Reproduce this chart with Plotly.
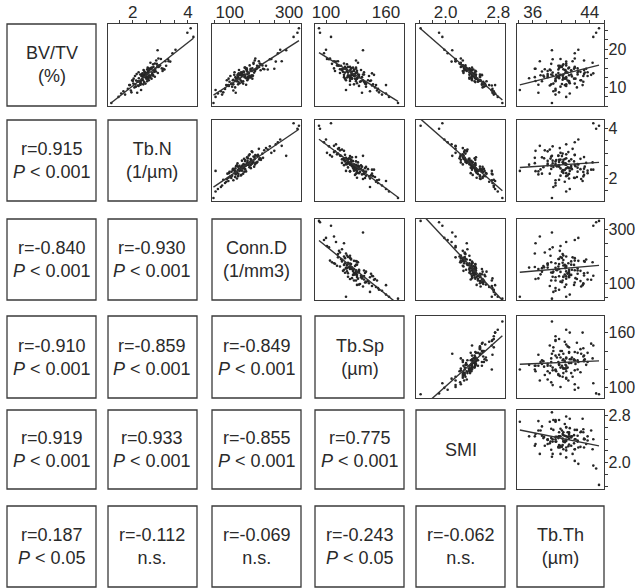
import numpy as np
import plotly.graph_objects as go

# ---- data (one value per specimen) ----
bv_tv = [14.3, 10.7, 16.0, 10.5, 14.0, 13.1, 12.2, 14.6, 12.9, 14.8,
         13.0, 14.6, 8.0, 14.9, 13.8, 11.6, 15.3, 10.3, 17.4, 10.9,
         12.5, 13.4, 13.4, 15.1, 8.5, 17.5, 13.3, 12.2, 12.2, 14.1,
         16.7, 13.6, 10.9, 13.8, 14.5, 11.5, 13.8, 14.2, 8.3, 13.7,
         12.2, 14.8, 11.0, 12.6, 13.9, 16.2, 9.1, 13.0, 13.3, 11.8,
         15.6, 10.6, 16.4, 11.6, 11.8, 15.7, 8.6, 14.7, 14.5, 16.1,
         11.3, 13.0, 11.4, 15.0, 18.9, 12.6, 13.1, 8.9, 15.7, 11.5,
         14.9, 11.7, 14.2, 13.3, 13.2, 12.7, 9.9, 17.0, 11.9, 13.0,
         12.8, 17.3, 10.4, 13.2, 12.9, 15.3, 7.4, 12.6, 14.8, 12.6,
         14.7, 13.3, 12.6, 11.8, 13.8, 15.3, 10.8, 19.8, 12.3, 15.1,
         9.5, 14.1, 14.4, 13.8, 10.7, 13.0, 16.8, 11.4, 12.3, 14.5,
         10.1, 14.4, 12.2, 15.6,
         25.5, 24.3, 23.2, 19.7, 5.8, 9.2, 12.3, 14.8, 13.2, 10.5, 16.8]

tb_n = [2.41, 2.38, 2.74, 1.87, 2.78, 2.36, 2.55, 3.15, 2.08, 2.62,
        2.60, 2.52, 1.72, 3.05, 2.47, 2.29, 2.89, 2.21, 3.02, 2.46,
        2.63, 2.70, 2.14, 2.54, 2.16, 2.93, 2.32, 2.68, 2.03, 2.84,
        3.36, 2.35, 2.02, 2.71, 2.77, 2.19, 2.44, 2.56, 1.58, 2.91,
        2.49, 2.82, 2.30, 2.48, 2.21, 2.80, 1.93, 2.74, 2.51, 2.37,
        3.21, 2.28, 2.64, 2.00, 2.58, 2.96, 1.95, 2.62, 2.39, 2.87,
        2.41, 2.45, 2.26, 2.66, 3.44, 2.47, 2.42, 1.66, 2.99, 2.52,
        2.57, 2.12, 3.08, 2.27, 2.40, 2.80, 2.06, 2.85, 2.33, 2.65,
        2.37, 3.28, 2.19, 2.73, 2.31, 2.75, 1.48, 2.61, 2.68, 2.40,
        3.12, 2.50, 2.53, 1.98, 2.55, 2.94, 2.27, 3.55, 2.22, 2.69,
        1.82, 2.57, 2.79, 2.43, 2.09, 2.59, 3.18, 2.18, 2.53, 2.60,
        2.11, 2.76, 2.34, 2.90,
        4.10, 3.98, 4.20, 2.90, 1.22, 2.30, 2.55, 3.10, 2.35, 1.90, 3.30]

conn_d = [171, 112, 205, 88, 148, 135, 162, 228, 102, 190,
          126, 155, 74, 176, 182, 118, 196, 97, 240, 145,
          168, 160, 139, 150, 120, 186, 127, 176, 96, 158,
          255, 130, 105, 141, 170, 145, 139, 185, 60, 164,
          121, 212, 133, 150, 116, 201, 112, 173, 142, 110,
          222, 155, 180, 124, 159, 167, 78, 188, 131, 180,
          140, 166, 99, 193, 262, 128, 147, 70, 210, 124,
          157, 137, 174, 149, 144, 161, 118, 184, 112, 178,
          152, 235, 92, 152, 141, 199, 52, 162, 170, 119,
          216, 133, 170, 90, 163, 195, 106, 270, 125, 152,
          84, 146, 204, 137, 128, 175, 198, 129, 155, 158,
          108, 183, 134, 192,
          333, 328, 315, 290, 45, 52, 160, 250, 115, 95, 275]

tb_sp = [131, 128, 121, 150, 117, 128, 124, 116, 143, 125,
         122, 128, 156, 108, 131, 124, 124, 133, 101, 140,
         121, 126, 129, 130, 136, 104, 137, 119, 131, 126,
         110, 146, 139, 119, 121, 130, 122, 128, 160, 114,
         126, 120, 131, 133, 138, 118, 151, 125, 132, 142,
         113, 124, 132, 144, 120, 111, 153, 116, 135, 106,
         139, 129, 134, 125, 98, 136, 127, 144, 112, 135,
         120, 145, 109, 138, 133, 123, 149, 130, 130, 122,
         133, 103, 146, 118, 128, 122, 163, 124, 130, 132,
         114, 127, 118, 137, 125, 119, 140, 100, 131, 127,
         152, 121, 124, 130, 147, 124, 112, 138, 126, 121,
         140, 116, 129, 115,
         93, 94, 105, 137, 172, 120, 125, 118, 148, 160, 108]

smi = [2.45, 2.58, 2.23, 2.66, 2.27, 2.55, 2.39, 2.33, 2.52, 2.32,
       2.40, 2.42, 2.73, 2.28, 2.40, 2.49, 2.27, 2.61, 2.15, 2.56,
       2.36, 2.39, 2.41, 2.40, 2.71, 2.23, 2.52, 2.36, 2.47, 2.46,
       2.09, 2.40, 2.56, 2.36, 2.35, 2.62, 2.44, 2.26, 2.75, 2.27,
       2.40, 2.29, 2.59, 2.44, 2.38, 2.21, 2.70, 2.45, 2.42, 2.52,
       2.26, 2.55, 2.23, 2.52, 2.40, 2.26, 2.73, 2.37, 2.40, 2.22,
       2.45, 2.42, 2.57, 2.30, 2.03, 2.52, 2.41, 2.73, 2.30, 2.44,
       2.36, 2.52, 2.32, 2.46, 2.45, 2.44, 2.56, 2.26, 2.49, 2.41,
       2.45, 2.15, 2.70, 2.36, 2.45, 2.29, 2.79, 2.45, 2.33, 2.45,
       2.29, 2.43, 2.39, 2.53, 2.38, 2.23, 2.55, 1.98, 2.47, 2.31,
       2.71, 2.37, 2.36, 2.38, 2.60, 2.40, 2.15, 2.49, 2.45, 2.38,
       2.58, 2.29, 2.46, 2.26,
       1.62, 1.90, 1.95, 2.10, 2.86, 2.70, 2.45, 2.32, 2.55, 2.75, 2.15]

tb_th = [41.4, 38.6, 40.3, 40.5, 42.7, 37.1, 40.7, 38.4, 43.1, 43.5,
         38.8, 39.6, 39.2, 41.0, 43.3, 36.4, 40.1, 40.7, 39.9, 38.9,
         40.3, 38.1, 43.2, 41.9, 36.8, 41.9, 40.3, 39.2, 41.8, 37.3,
         40.7, 44.5, 41.9, 38.8, 40.5, 37.3, 40.9, 42.4, 41.2, 39.6,
         42.0, 36.3, 41.2, 39.4, 43.7, 40.7, 39.2, 39.7, 38.6, 42.7,
         39.8, 36.8, 44.4, 41.1, 39.2, 40.7, 39.7, 40.3, 43.2, 38.6,
         41.1, 37.5, 43.1, 39.7, 41.9, 39.7, 41.1, 38.9, 40.2, 39.2,
         42.3, 40.9, 38.1, 42.3, 39.9, 37.6, 42.2, 43.2, 40.2, 40.2,
         41.5, 38.8, 38.4, 39.3, 43.7, 39.9, 40.7, 36.3, 41.8, 40.7,
         37.7, 41.4, 38.1, 42.8, 40.6, 41.9, 40.1, 42.4, 40.3, 41.1,
         39.2, 40.7, 38.5, 42.3, 40.7, 38.1, 41.6, 41.1, 39.7, 40.6,
         39.9, 41.4, 40.5, 39.6,
         45.3, 44.9, 44.5, 38.7, 38.7, 34.2, 35.5, 36.4, 44.2, 43.0, 37.0]

var_labels = ["BV/TV<br>(%)", "Tb.N<br>(1/µm)", "Conn.D<br>(1/mm3)",
              "Tb.Sp<br>(µm)", "SMI", "Tb.Th<br>(µm)"]

# lower triangle: correlation coefficients and significance labels (row by row)
r_values = [[0.915],
            [-0.840, -0.930],
            [-0.910, -0.859, -0.849],
            [0.919, 0.933, -0.855, 0.775],
            [0.187, -0.112, -0.069, -0.243, -0.062]]
p_labels = [["<i>P</i> < 0.001"],
            ["<i>P</i> < 0.001", "<i>P</i> < 0.001"],
            ["<i>P</i> < 0.001", "<i>P</i> < 0.001", "<i>P</i> < 0.001"],
            ["<i>P</i> < 0.001", "<i>P</i> < 0.001", "<i>P</i> < 0.001", "<i>P</i> < 0.001"],
            ["<i>P</i> < 0.05", "n.s.", "n.s.", "<i>P</i> < 0.05", "n.s."]]

major_ticks = [[10, 20], [2, 4], [100, 300], [100, 160], [2.0, 2.8], [36, 44]]
tick_text = [["10", "20"], ["2", "4"], ["100", "300"], ["100", "160"], ["2.0", "2.8"], ["36", "44"]]

# ---- styling / layout ----
variables = [bv_tv, tb_n, conn_d, tb_sp, smi, tb_th]
ranges = [[5, 26.6], [1.1, 4.33], [40, 340], [89, 178], [1.55, 2.9], [33.8, 46]]
minor_dt = [2.5, 0.5, 50, 20, 0.2, 2]
W, H = 636, 588
col_px = [(7, 96), (108, 197), (212, 301), (315, 404), (416, 505), (517, 604)]
row_px = [(24, 106), (120, 201), (219, 300), (316, 398), (410, 489), (506, 587)]
FONT = "Liberation Sans, Arial, sans-serif"
INK = "#2a2a2a"
BOX = "#3a3a3a"

fig = go.Figure()
layout = {}
annotations = []
shapes = []
k = 0
for i in range(6):
    for j in range(6):
        x0, x1 = col_px[j]
        y0, y1 = row_px[i]
        xd = [x0 / W, x1 / W]
        yd = [1 - y1 / H, 1 - y0 / H]
        if j > i:
            k += 1
            xs = np.array(variables[j], dtype=float)
            ys = np.array(variables[i], dtype=float)
            sfx = "" if k == 1 else str(k)
            fig.add_trace(go.Scatter(x=xs, y=ys, mode="markers",
                                     marker=dict(size=2.6, color="#262626"),
                                     xaxis="x" + sfx, yaxis="y" + sfx,
                                     showlegend=False, hoverinfo="skip"))
            slope, icpt = np.polyfit(xs, ys, 1)
            lx = np.array([xs.min(), xs.max()])
            fig.add_trace(go.Scatter(x=lx, y=slope * lx + icpt, mode="lines",
                                     line=dict(color="#333", width=1.4),
                                     xaxis="x" + sfx, yaxis="y" + sfx,
                                     showlegend=False, hoverinfo="skip"))
            xa = dict(domain=xd, range=ranges[j], anchor="y" + sfx, automargin=False,
                      showline=True, mirror=True, linecolor=BOX, linewidth=1.3,
                      showgrid=False, zeroline=False, fixedrange=True)
            ya = dict(domain=yd, range=ranges[i], anchor="x" + sfx, automargin=False,
                      showline=True, mirror=True, linecolor=BOX, linewidth=1.3,
                      showgrid=False, zeroline=False, fixedrange=True)
            if i == 0:
                xa.update(side="top", ticks="outside", ticklen=3, tickcolor=BOX,
                          tickmode="array", tickvals=major_ticks[j], ticktext=tick_text[j],
                          showticklabels=True, ticklabelstandoff=-5,
                          tickfont=dict(family=FONT, size=17, color=INK),
                          minor=dict(ticks="outside", ticklen=2.5, dtick=minor_dt[j],
                                     tick0=major_ticks[j][0], tickcolor=BOX))
            else:
                xa.update(ticks="", showticklabels=False)
            if j == 5:
                ya.update(side="right", ticks="outside", ticklen=3, tickcolor=BOX,
                          tickmode="array", tickvals=major_ticks[i], ticktext=tick_text[i],
                          showticklabels=True, ticklabelstandoff=-3,
                          tickfont=dict(family=FONT, size=16, color=INK),
                          minor=dict(ticks="outside", ticklen=2.5, dtick=minor_dt[i],
                                     tick0=major_ticks[i][0], tickcolor=BOX))
            else:
                ya.update(ticks="", showticklabels=False)
            layout["xaxis" + sfx] = xa
            layout["yaxis" + sfx] = ya
        else:
            shapes.append(dict(type="rect", xref="paper", yref="paper",
                               x0=xd[0], x1=xd[1], y0=yd[0], y1=yd[1],
                               line=dict(color=BOX, width=1.3)))
            if i == j:
                txt = var_labels[i]
            else:
                txt = "r={:.3f}<br>{}".format(r_values[i - 1][j], p_labels[i - 1][j])
            annotations.append(dict(x=(xd[0] + xd[1]) / 2, y=(yd[0] + yd[1]) / 2,
                                    xref="paper", yref="paper", text=txt,
                                    showarrow=False, xanchor="center", yanchor="middle",
                                    font=dict(family=FONT, size=18, color=INK)))

fig.update_layout(width=W, height=H, margin=dict(l=0, r=0, t=0, b=0),
                  paper_bgcolor="white", plot_bgcolor="white", hovermode=False,
                  annotations=annotations, shapes=shapes, **layout)
fig.write_html("out.html", config={"displayModeBar": False, "staticPlot": True},
               post_script="document.body.style.margin='0';document.body.style.overflow='hidden';")
